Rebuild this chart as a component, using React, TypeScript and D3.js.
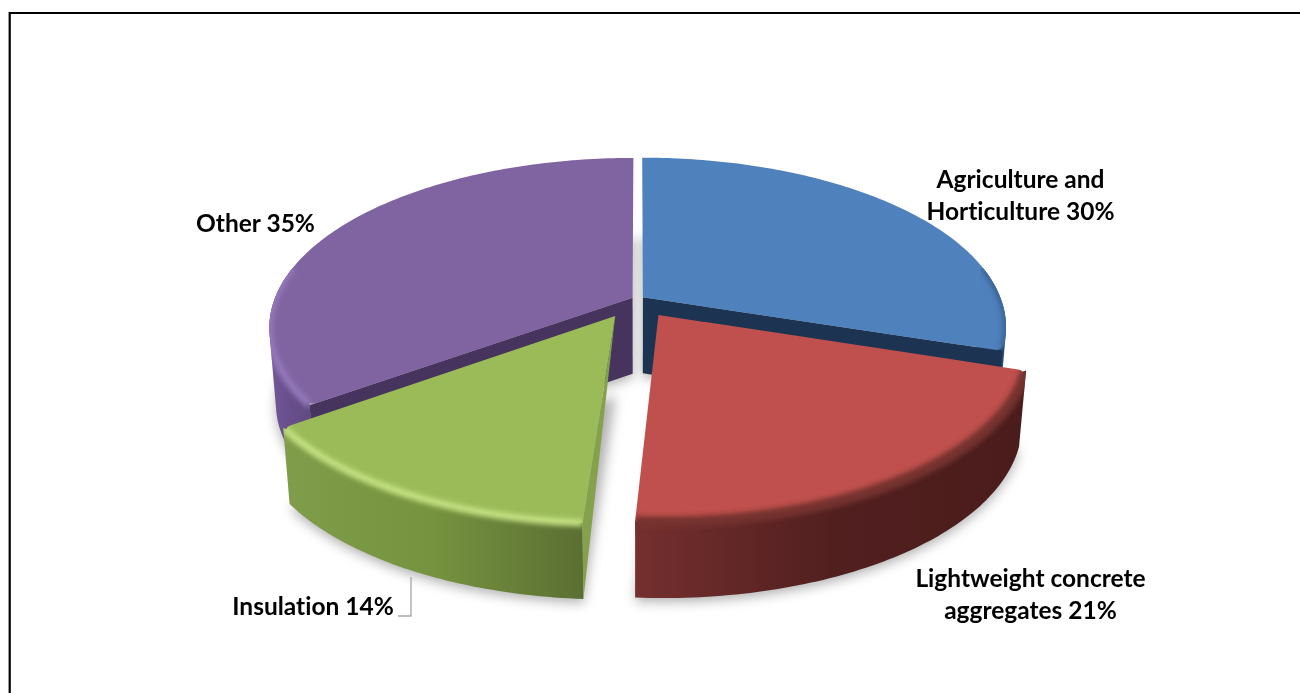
import React from "react";
import * as d3 from "d3";

const categories = ["Agriculture and Horticulture", "Lightweight concrete aggregates", "Insulation", "Other"];
const shares = [30, 21, 14, 35];
const labelLines = [
  ["Agriculture and", "Horticulture 30%"],
  ["Lightweight concrete", "aggregates 21%"],
  ["Insulation 14%"],
  ["Other 35%"],
];
const explodeX = [0.017, 0.1, 0.13, 0.017];
const explodeY = [0.017, 0.115, 0.115, 0.017];
const topColors = ["#4f81bd", "#c0504d", "#9bbb59", "#8064a2"];
const wallColors = ["#1c3451", "#4f1f1e", "#85a14c", "#46345f"];
const bevelColors = ["#3a6596", "#74302e", "#c6e283", "#9479bb"];
const sideStops = [
  ["#1f3d60", "#1f3d60", "#2b5080"],
  ["#752f2f", "#521f1f", "#4a1c1b"],
  ["#7f9d4a", "#76933f", "#5b6f33"],
  ["#72589a", "#684f8c", "#614a80"],
];
const labelAnchors = [[1020.5, 188], [1030.5, 587], [313, 615], [255.5, 232]];

const W = 1300, H = 693;
const cx = 638, cy = 299, R = 358, K = 0.46, P = 0.175, DEPTH = 76;
const CORNER = 8;

type Pt = [number, number];
const project = (X: number, Y: number, z: number): Pt => {
  const s = 1 / (1 + P * Y);
  return [cx + R * X * s * (1 - 0.018 * z), cy - R * K * Y * s + z * DEPTH];
};

const pieGen = d3.pie<number>().value((d) => d).sort(null).startAngle(0).endAngle(2 * Math.PI);
const arcs = pieGen(shares);

const pathOf = (pts: Pt[]) => d3.line()(pts) + "Z";
const dist = (a: Pt, b: Pt) => Math.hypot(a[0] - b[0], a[1] - b[1]);

const sliceGeom = (i: number) => {
  const a = arcs[i];
  const mid = (a.startAngle + a.endAngle) / 2;
  const ox = Math.sin(mid) * explodeX[i];
  const oy = Math.cos(mid) * explodeY[i];
  const n = Math.max(8, Math.round((a.endAngle - a.startAngle) * 60));
  const thetas = d3.range(n + 1).map((j) => a.startAngle + ((a.endAngle - a.startAngle) * j) / n);
  const rim = (z: number) => thetas.map((t) => project(ox + Math.sin(t), oy + Math.cos(t), z));
  return { thetas, rim, apex: (z: number) => project(ox, oy, z) };
};

const frontRim = (i: number) => {
  const g = sliceGeom(i);
  const keep = g.thetas.map((t) => Math.cos(t) < 0.2);
  return {
    tp: g.rim(0).filter((_, j) => keep[j]),
    bt: g.rim(1).filter((_, j) => keep[j]),
  };
};

// the corner of the top face that is softened: rim start or rim end
const roundAtStart = [false, true, false, true];
const roundAtEnd = [true, false, true, false];

const topPath = (i: number) => {
  const g = sliceGeom(i);
  const rim = g.rim(0);
  const apex = g.apex(0);
  const toward = (from: Pt, to: Pt, d: number): Pt => {
    const l = dist(from, to);
    return [from[0] + ((to[0] - from[0]) * d) / l, from[1] + ((to[1] - from[1]) * d) / l];
  };
  const fmt = (p: Pt) => `${p[0]},${p[1]}`;
  let d = `M${fmt(apex)}`;
  if (roundAtStart[i]) {
    const c = rim[0];
    const rest = rim.filter((p) => dist(p, c) > CORNER);
    d += `L${fmt(toward(c, apex, CORNER))}Q${fmt(c)} ${fmt(rest[0])}`;
    rest.slice(1).forEach((p) => (d += `L${fmt(p)}`));
  } else if (roundAtEnd[i]) {
    const c = rim[rim.length - 1];
    const rest = rim.filter((p) => dist(p, c) > CORNER);
    rest.forEach((p) => (d += `L${fmt(p)}`));
    d += `Q${fmt(c)} ${fmt(toward(c, apex, CORNER))}`;
  }
  return d + "Z";
};

const order = [3, 0, 2, 1];

export default function App() {
  return (
    <svg
      width={W}
      height={H}
      style={{ position: "absolute", left: 0, top: 0, background: "#fff", fontVariantLigatures: "none" }}
      fontFamily="Lato, 'Open Sans', sans-serif"
    >
      <defs>
        <filter id="soft" x="-20%" y="-20%" width="140%" height="140%">
          <feGaussianBlur stdDeviation="6" />
        </filter>
        <filter id="bevel" x="-10%" y="-10%" width="120%" height="120%">
          <feGaussianBlur stdDeviation="2.4" />
        </filter>
        {order.map((i) => {
          const { tp } = frontRim(i);
          const xs = tp.map((p) => p[0]);
          return (
            <linearGradient
              key={i}
              id={`side${i}`}
              gradientUnits="userSpaceOnUse"
              x1={d3.min(xs)}
              x2={d3.max(xs)}
              y1={0}
              y2={0}
            >
              {sideStops[i].map((c, k) => (
                <stop key={k} offset={k / 2} stopColor={c} />
              ))}
            </linearGradient>
          );
        })}
        {order.map((i) => {
          const { tp, bt } = frontRim(i);
          return (
            <clipPath id={`bodyClip${i}`} key={i}>
              <path d={topPath(i)} />
              <path d={pathOf(d3.polygonHull([...tp, ...bt]) as Pt[])} />
            </clipPath>
          );
        })}
      </defs>

      {/* frame: left and top only */}
      <path d={`M9.7,${H}V13H${W}`} fill="none" stroke="#000" strokeWidth={2.2} />

      {/* soft ground shadow */}
      <g filter="url(#soft)">
        {order.map((i) => {
          const g = sliceGeom(i);
          return (
            <path
              key={i}
              d={pathOf([g.apex(1), ...g.rim(1)])}
              fill="#000"
              opacity={0.3}
              transform="translate(0,4)"
            />
          );
        })}
      </g>

      {order.map((i) => {
        const g = sliceGeom(i);
        const { tp, bt } = frontRim(i);
        const topRim = g.rim(0);
        const botRim = g.rim(1);
        const hull = d3.polygonHull([...tp, ...bt]) as Pt[];
        const e = i === 3 ? 0 : topRim.length - 1;
        const innerWall: Pt[] = [g.apex(0), topRim[e], botRim[e], g.apex(1)];
        const greenWall: Pt[] = [g.apex(0), topRim[0], botRim[0]];
        return (
          <g key={i}>
            <path d={pathOf(hull)} fill={`url(#side${i})`} />
            {(i === 0 || i === 3) && <path d={pathOf(innerWall)} fill={wallColors[i]} />}
            {i === 2 && <path d={pathOf(greenWall)} fill={wallColors[i]} />}
            <path d={topPath(i)} fill={topColors[i]} />
            <g clipPath={`url(#bodyClip${i})`}>
              <path
                d={d3.line()(tp)!}
                fill="none"
                stroke={bevelColors[i]}
                strokeWidth={i === 1 ? 11 : 7}
                filter="url(#bevel)"
              />
            </g>
            <title>{`${categories[i]} ${shares[i]}%`}</title>
          </g>
        );
      })}

      {/* leader */}
      <path d="M411,577V616H398" fill="none" stroke="#a6a6a6" strokeWidth={1.3} />

      {/* labels */}
      {labelLines.map((lines, i) =>
        lines.map((t, j) => (
          <text
            key={t}
            x={labelAnchors[i][0]}
            y={labelAnchors[i][1] + j * 32}
            textAnchor="middle"
            fontWeight={700}
            fontSize={24.5}
            fill="#000"
          >
            {t}
          </text>
        ))
      )}
    </svg>
  );
}
